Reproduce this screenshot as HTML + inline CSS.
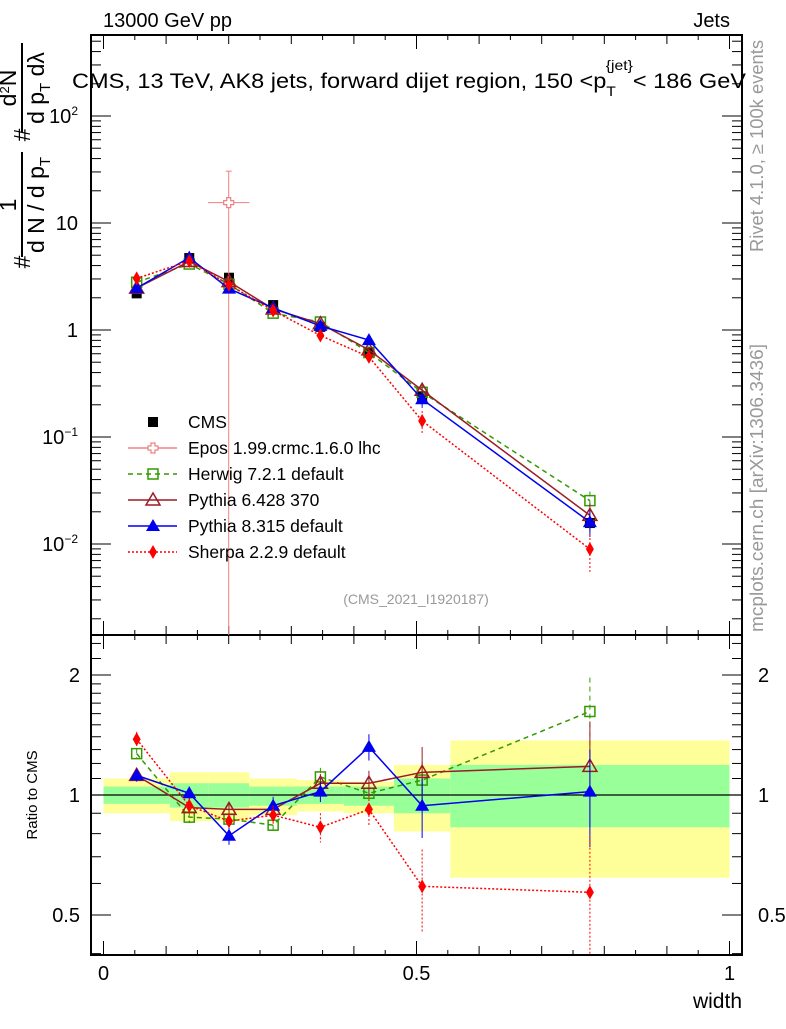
<!DOCTYPE html>
<html><head><meta charset="utf-8"><style>
body{margin:0;background:#fff;width:786px;height:1024px;overflow:hidden}
svg{font-family:"Liberation Sans",sans-serif}
</style></head><body>
<svg id="c" width="786" height="1024" viewBox="0 0 786 1024" xmlns="http://www.w3.org/2000/svg"></svg>
<script>
// ---- data ----
const binEdges=[0,0.106,0.168,0.233,0.309,0.384,0.464,0.554,1.0];
const cmsVals=[2.2,4.7,3.08,1.71,1.07,0.61,0.24,0.0157];
const cmsErr=[0.03,0.03,0.03,0.04,0.05,0.05,0.12,0.12];
const bandYelHi=[1.10,1.14,1.14,1.10,1.09,1.08,1.19,1.37];
const bandYelLo=[0.90,0.86,0.86,0.89,0.91,0.90,0.81,0.62];
const bandGrnHi=[1.05,1.07,1.07,1.05,1.05,1.05,1.10,1.19];
const bandGrnLo=[0.95,0.93,0.93,0.94,0.95,0.94,0.90,0.83];
const herwigRatio=[1.27,0.88,0.87,0.84,1.11,1.01,1.09,1.62];
const herwigErr=[0.04,0.03,0.03,0.04,0.06,0.05,0.12,0.35];
const pythia6Ratio=[1.12,0.93,0.92,0.92,1.07,1.07,1.14,1.18];
const pythia6Err=[0.03,0.03,0.04,0.04,0.06,0.08,0.18,0.35];
const pythia8Ratio=[1.12,1.01,0.79,0.94,1.02,1.32,0.94,1.02];
const pythia8Err=[0.04,0.04,0.04,0.05,0.06,0.1,0.16,0.28];
const sherpaRatio=[1.38,0.94,0.86,0.89,0.83,0.92,0.59,0.57];
const sherpaErr=[0.06,0.04,0.04,0.05,0.07,0.08,0.14,0.22];
const eposX=[0.2];
const eposVal=[15.5];
const eposErrUp=[15];
const eposXErr=[0.033];
const mainTicks=[0.01,0.1,1,10,100];
const mainTickLabels=["10<tspan dy='-8' font-size='12'>−2</tspan>","10<tspan dy='-8' font-size='12'>−1</tspan>","1","10","10<tspan dy='-8' font-size='12'>2</tspan>"];
const ratioTicks=[0.5,1,2];
const ratioTickLabels=["0.5","1","2"];
const xTicks=[0,0.5,1];
const xTickLabels=["0","0.5","1"];
// ---- geometry ----
const L=91,R=742,T=35,M=635,B=955;
const X=v=>103.5+v*626;
const YM=v=>330-107*Math.log10(v);
const YR=v=>795-120*Math.log2(v);
const svg=document.getElementById('c');
const NS="http://www.w3.org/2000/svg";
function el(tag,attrs,parent){const e=document.createElementNS(NS,tag);for(const k in attrs)e.setAttribute(k,attrs[k]);(parent||svg).appendChild(e);return e;}
const centers=binEdges.slice(0,-1).map((e,i)=>(e+binEdges[i+1])/2);

// bands
binEdges.slice(0,-1).forEach((e,i)=>{
  const y=el('rect',{x:X(e),y:YR(bandYelHi[i]),width:X(binEdges[i+1])-X(e),height:YR(bandYelLo[i])-YR(bandYelHi[i]),fill:'#ffff99'});
  
  
  const g=el('rect',{x:X(e),y:YR(bandGrnHi[i]),width:X(binEdges[i+1])-X(e),height:YR(bandGrnLo[i])-YR(bandGrnHi[i]),fill:'#99ff99'});
  
  
});
el('line',{x1:L,x2:R,y1:YR(1),y2:YR(1),stroke:'#000','stroke-width':1.3});

// frames
const f1=el('rect',{x:L,y:T,width:R-L,height:M-T,fill:'none',stroke:'#000','stroke-width':2});


const f2=el('rect',{x:L,y:M,width:R-L,height:B-M,fill:'none',stroke:'#000','stroke-width':2});



// x ticks
for(let k=0;k<=20;k++){const v=k*0.05;const len=(k%10==0)?14:(k%2==0?9:5);const x=X(v);
  [[T,1],[M,-1],[M,1],[B,-1]].forEach(([y0,d])=>el('line',{x1:x,x2:x,y1:y0,y2:y0+d*len,stroke:'#000','stroke-width':1}));}
xTicks.forEach((v,i)=>{const t=el('text',{x:X(v),y:980,'font-size':20,'text-anchor':'middle'});t.textContent=xTickLabels[i];
  
  });
// main y ticks
for(let d=-3;d<=2;d++){for(let m=1;m<=9;m++){const v=m*Math.pow(10,d);const y=YM(v);if(y<T||y>M)continue;const len=m==1?20:10;
  el('line',{x1:L,x2:L+len,y1:y,y2:y,stroke:'#000'});el('line',{x1:R,x2:R-len,y1:y,y2:y,stroke:'#000'});}}
mainTicks.forEach((v,i)=>{const t=el('text',{x:78,y:YM(v)+7,'font-size':20,'text-anchor':'end'});t.innerHTML=mainTickLabels[i];
  
  });
// ratio y ticks
[0.4,0.5,0.6,0.7,0.8,0.9,1,1.1,1.2,1.3,1.4,1.5,1.6,1.7,1.8,1.9,2,2.2,2.4].forEach(v=>{const y=YR(v);if(y<M||y>B)return;const len=ratioTicks.includes(v)?20:10;
  el('line',{x1:L,x2:L+len,y1:y,y2:y,stroke:'#000'});el('line',{x1:R,x2:R-len,y1:y,y2:y,stroke:'#000'});});
ratioTicks.forEach((v,i)=>{const t=el('text',{x:80,y:YR(v)+7,'font-size':20,'text-anchor':'end'});t.textContent=ratioTickLabels[i];
  
  
  const t2=el('text',{x:758,y:YR(v)+7,'font-size':20});t2.textContent=ratioTickLabels[i];
  
  });

// markers
function marker(type,x,y,color,parent){
  if(type=='sqf')return el('rect',{x:x-5,y:y-5,width:10,height:10,fill:color},parent);
  if(type=='sqo')return el('rect',{x:x-5,y:y-5,width:10,height:10,fill:'none',stroke:color,'stroke-width':1.5},parent);
  if(type=='tro')return el('polygon',{points:`${x},${y-7} ${x-7},${y+5} ${x+7},${y+5}`,fill:'none',stroke:color,'stroke-width':1.5},parent);
  if(type=='trf')return el('polygon',{points:`${x},${y-7} ${x-7},${y+5} ${x+7},${y+5}`,fill:color},parent);
  if(type=='dia')return el('polygon',{points:`${x},${y-7} ${x-4},${y} ${x},${y+7} ${x+4},${y}`,fill:color},parent);
  if(type=='cro')return el('path',{d:`M${x-2},${y-5}h4v3h3v4h-3v3h-4v-3h-3v-4h3z`,fill:'#fff',stroke:color,'stroke-width':1.2},parent);
}
const series=[
 {name:'herwig',ratio:herwigRatio,err:herwigErr,color:'#339900',dash:'5,4',m:'sqo'},
 {name:'pythia6',ratio:pythia6Ratio,err:pythia6Err,color:'#9b1c24',dash:'',m:'tro'},
 {name:'pythia8',ratio:pythia8Ratio,err:pythia8Err,color:'#0000ee',dash:'',m:'trf'},
 {name:'sherpa',ratio:sherpaRatio,err:sherpaErr,color:'#ff0000',dash:'2,2',m:'dia'}];
// main panel CMS
cmsVals.forEach((v,i)=>{const x=X(centers[i]);
  el('line',{x1:x,x2:x,y1:YM(v*(1+cmsErr[i])),y2:YM(v*(1-cmsErr[i])),stroke:'#000'});
  const m=marker('sqf',x,YM(v),'#000');
  
  });
// epos
eposVal.forEach((v,i)=>{const x=X(eposX[i]),y=YM(v);
  el('line',{x1:x,x2:x,y1:YM(v+eposErrUp[i]),y2:M,stroke:'#f08080'});
  el('line',{x1:X(eposX[i]-eposXErr[i]),x2:X(eposX[i]+eposXErr[i]),y1:y,y2:y,stroke:'#f08080'});
  el('line',{x1:x-3,x2:x+3,y1:YM(v+eposErrUp[i]),y2:YM(v+eposErrUp[i]),stroke:'#f08080'});
  const m=marker('cro',x,y,'#f08080');
  
  });
series.forEach(s=>{
  const mv=s.ratio.map((r,i)=>r*cmsVals[i]);
  const pl=el('polyline',{points:mv.map((v,i)=>X(centers[i])+','+YM(v)).join(' '),fill:'none',stroke:s.color,'stroke-width':1.5,'stroke-dasharray':s.dash});
  
  
  const rl=el('polyline',{points:s.ratio.map((v,i)=>X(centers[i])+','+YR(v)).join(' '),fill:'none',stroke:s.color,'stroke-width':1.5,'stroke-dasharray':s.dash});
  
  
  s.ratio.forEach((r,i)=>{const x=X(centers[i]);const rel=s.err[i]/r;
    el('line',{x1:x,x2:x,y1:YM(mv[i]*(1+rel)),y2:Math.min(M,YM(Math.max(1e-4,mv[i]*(1-rel)))),stroke:s.color,'stroke-dasharray':s.dash});
    el('line',{x1:x,x2:x,y1:YR(r+s.err[i]),y2:Math.min(B,YR(Math.max(0.3,r-s.err[i]))),stroke:s.color,'stroke-dasharray':s.dash});
    const m=marker(s.m,x,YM(mv[i]),s.color);
    
    
    const m2=marker(s.m,x,YR(r),s.color);
    
    });
});
// legend
const legNames=['CMS','Epos 1.99.crmc.1.6.0 lhc','Herwig 7.2.1 default','Pythia 6.428 370','Pythia 8.315 default','Sherpa 2.2.9 default'];
const legStyle=[['sqf','#000',null,''],['cro','#f08080','#f08080',''],['sqo','#339900','#339900','5,4'],['tro','#9b1c24','#9b1c24',''],['trf','#0000ee','#0000ee',''],['dia','#ff0000','#ff0000','2,2']];
legNames.forEach((n,i)=>{const y=422+i*26;const g=el('g',{});
  
  
  const st=legStyle[i];
  if(st[2])el('line',{x1:128,x2:177,y1:y,y2:y,stroke:st[2],'stroke-width':1.5,'stroke-dasharray':st[3]},g);
  marker(st[0],153,y,st[1],g);
  const t=el('text',{x:188,y:y+6,'font-size':17.5},g);t.textContent=n;});
</script>
<svg width="786" height="1024" style="position:absolute;left:0;top:0" xmlns="http://www.w3.org/2000/svg" font-family="Liberation Sans, sans-serif">
<text x="103" y="27" font-size="20">13000 GeV pp</text>
<text x="730" y="27" font-size="20" text-anchor="end">Jets</text>
<text x="72" y="88" font-size="21" textLength="674" lengthAdjust="spacingAndGlyphs">CMS, 13 TeV, AK8 jets, forward dijet region, 150 &lt;p<tspan dy="8" font-size="14">T</tspan><tspan dy="-26" dx="-9" font-size="14">{jet}</tspan><tspan dy="18">&lt; 186 GeV</tspan></text>
<text x="416" y="604" font-size="14" fill="#999" text-anchor="middle">(CMS_2021_I1920187)</text>
<text transform="translate(763,252) rotate(-90)" font-size="18" fill="#999" textLength="212" lengthAdjust="spacingAndGlyphs">Rivet 4.1.0, ≥ 100k events</text>
<text transform="translate(763,632) rotate(-90)" font-size="18" fill="#999" textLength="288" lengthAdjust="spacingAndGlyphs">mcplots.cern.ch [arXiv:1306.3436]</text>
<text transform="translate(37,795) rotate(-90)" font-size="15" text-anchor="middle">Ratio to CMS</text>
<text x="742" y="1008" font-size="21" text-anchor="end">width</text>
<g font-size="23">
<text transform="translate(30,262) rotate(-90)" text-anchor="middle">#</text>
<line x1="22" x2="22" y1="152" y2="257" stroke="#000" stroke-width="2"/>
<text transform="translate(16,205) rotate(-90)" text-anchor="middle">1</text>
<text transform="translate(44,205) rotate(-90)" text-anchor="middle">d N / d p<tspan dy="6" font-size="15">T</tspan></text>
<text transform="translate(30,135) rotate(-90)" text-anchor="middle">#</text>
<line x1="22" x2="22" y1="43" y2="132" stroke="#000" stroke-width="2"/>
<text transform="translate(16,88) rotate(-90)" text-anchor="middle">d<tspan dy="-7" font-size="13">2</tspan><tspan dy="7">N</tspan></text>
<text transform="translate(44,88) rotate(-90)" text-anchor="middle">d p<tspan dy="6" font-size="15">T</tspan><tspan dy="-6"> dλ</tspan></text>
</g>
</svg>
</body></html>
